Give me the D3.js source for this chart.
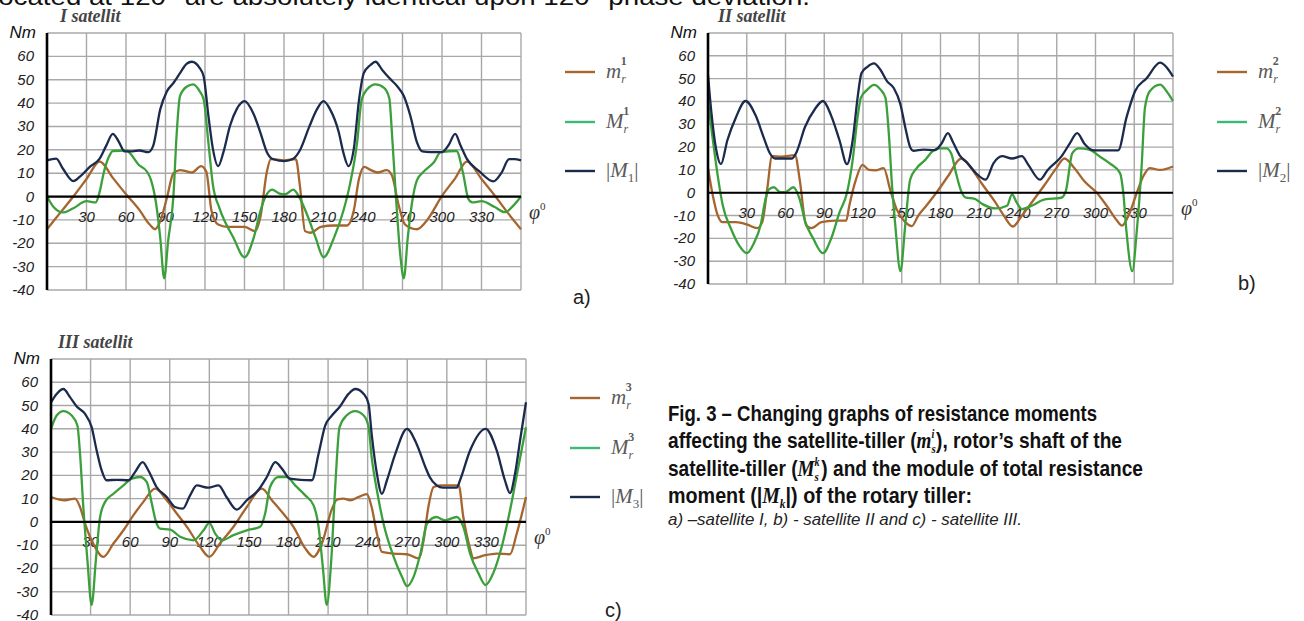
<!DOCTYPE html>
<html>
<head>
<meta charset="utf-8">
<script src="https://cdn.jsdelivr.net/npm/d3@7"></script>
<style>
body { margin: 0; background: #fff; }
svg text { font-family: "Liberation Sans", Arial, sans-serif; }
</style>
</head>
<body>
<script>
var w = 1304, h = 621;

var yTicks = [-40, -30, -20, -10, 0, 10, 20, 30, 40, 50, 60];
var xTicks = [30, 60, 90, 120, 150, 180, 210, 240, 270, 300, 330];
var titles = ["I satellit", "II satellit", "III satellit"];
var panelTags = ["a)", "b)", "c)"];

// [angle, Nm]
// satellite I
var m1 = [[0,-14],[10,-7],[20,0],[30,7.5],[40,15],[50,8],[60,1],[70,-5.6],[78,-12],[82,-14],[86,-10.6],[91,-0.7],[96,9.9],[101,11.3],[106,10.8],[110,10.3],[117,13],[121,10.6],[125,-6.3],[130,-12],[137,-13],[150,-13],[158,-14.8],[162,-9],[167,10.6],[170,16],[180,15.5],[189,16],[192,5],[196,-14.8],[200,-15.5],[208,-13],[218,-12.4],[228,-12.4],[233,-6],[237,7.7],[241,12.7],[246,11.3],[251,10.3],[258,11.3],[262,9],[267,-3.5],[272,-12],[281,-14],[288,-10.6],[300,0.3],[310,7.8],[319,15],[330,7.5],[342,-1],[350,-7],[360,-14]];
var M1 = [[0,0],[5,-4.5],[12,-6.8],[20,-5],[30,-2],[37,-2.5],[40,2],[43,10],[47,17],[50,19.5],[60,19.7],[70,13.4],[76,10.6],[79,7],[83,-3.5],[86,-17.6],[89,-35],[92,-19],[96,0],[98.5,27],[101,43],[106,47],[111,48],[116,45],[119,41.5],[122.6,23],[126,5],[131,-5],[141.6,-17.6],[150,-26],[157,-17.6],[162,-6.3],[166,0],[171,3],[176,1.4],[181,1],[187,3],[192,-0.7],[197.5,-7.7],[204,-17.6],[210,-26],[218,-17.6],[225,-6.3],[230,5],[235.5,23],[239,41.5],[243,45.8],[249.5,48],[256,46.5],[260,42],[262,27],[265,0],[268.5,-26],[271,-35],[274,-17.6],[277,-3.5],[281,7],[286,10.6],[294,14.8],[299,19],[311,19.5],[316,10],[320,-1],[323,-2.5],[330,-2],[340,-4.5],[348,-6.7],[354,-4],[360,0]];
var A1 = [[0,15.5],[7,16.2],[12,12],[20,6.6],[25,8.5],[32.5,12.7],[40,16.2],[45,21.8],[50,26.8],[54,24],[59,19.3],[65,19.3],[70,19.7],[77,19],[80.7,21.8],[86,37.3],[91,45],[96,48.6],[101,52.8],[106,56.8],[110,57.7],[116,55],[119,51.4],[122.6,34.5],[126,20.4],[130,13],[134,19],[139,30.3],[144,37.3],[150,40.8],[157,35.2],[162,27.5],[167,19],[171,16.2],[180,15.2],[187,16.2],[192,19.7],[199,29.6],[205,37.3],[210,40.8],[215,37.3],[221.6,27.5],[225,19],[229,13],[233,20.4],[237,41.5],[240.6,52.8],[245.7,56.3],[249.5,57.7],[254.6,54.2],[260,50.7],[266,47.2],[271,43],[276,34.5],[281,23.2],[285,19.3],[291,19],[300,19],[305,22],[310,26.8],[314,22],[319,16],[328,11],[339,6.5],[345,10],[351,16],[355,16],[360,15.5]];

// satellite II
var m2 = [[0,10.8],[3.8,-1.4],[7.6,-10],[11.5,-12.9],[21.6,-12.9],[30.5,-14],[38,-15.5],[42,-12.9],[45.8,1.4],[49.6,16],[57,15.8],[67.4,16.5],[71,5.7],[76,-14.3],[80,-15.5],[87.8,-12.9],[98,-12.2],[107,-12.2],[109.4,-5.7],[114.5,5.7],[119.6,12.2],[124.7,10],[129.8,9.8],[136,10.8],[141,1.4],[146,-7.2],[152.7,-12.9],[157.8,-14.6],[162.8,-10],[169,-5.7],[176.8,0],[185.8,7.2],[196,15],[204.8,10],[212.5,3.6],[222.6,-4.3],[229,-10],[236,-14.8],[243,-10],[250.6,-4.3],[260.8,3.6],[269.7,10.8],[276,15],[283.6,10.8],[291.4,5],[301,0],[308.8,-5.8],[316.6,-12.2],[320.5,-14.4],[325.6,-10],[332,0],[337,7.2],[342,10.8],[350,10],[360,11.5]];
var M2 = [[0,40.2],[3.8,23],[7.6,7.2],[11.5,-5.7],[17.8,-15.8],[24,-23],[30,-26.5],[35.6,-22],[40.7,-14.3],[44.5,-2.9],[47,1.4],[51,2.4],[56,0.3],[60,0.3],[66,2.4],[71,-2.9],[75,-12.2],[81.4,-20],[89,-26.5],[95.4,-20],[101.8,-8.6],[107.6,0],[112,14.3],[115.8,33],[118.3,41.6],[123.4,45.2],[128.5,47.3],[133.6,45.2],[137.4,41.6],[140,25.8],[142.5,2.9],[145,-14.3],[149,-34.4],[152.7,-14.3],[156.5,5.7],[161.6,10.8],[168,14.3],[174.3,18.4],[179.4,19.4],[184.5,19.4],[188.3,17.2],[192,8.6],[196,0.7],[199.7,-2.2],[206,-2.6],[212.5,-5],[222.6,-6.9],[231.5,-5.7],[235.4,-0.7],[239,-4.3],[243,-7.2],[250.6,-5.7],[260.8,-2.9],[273.5,-2.2],[277,0.7],[282,17.2],[287,19.4],[295,18.9],[303.5,15.8],[311,12.9],[319,8.6],[321.5,0],[324,-17.2],[328.5,-34.4],[331.9,-17.2],[335.7,11.5],[338.3,37.3],[342,44.5],[350,47.4],[355,44.5],[360,40.2]];
var A2 = [[0,51.6],[2.5,35.9],[6.4,18.7],[10,12.5],[15,23],[21.6,33],[29,40.2],[37,33.7],[43,24.4],[48,17.2],[52,15],[65,15],[68.7,18],[75,28.7],[82.7,36.6],[89,40.2],[95.4,33.7],[101.8,23],[107.6,12.5],[112,23],[115.8,41.6],[118.8,52.4],[123.4,55.2],[128.5,56.7],[133.6,53.8],[138.7,48.8],[143.8,45.9],[149,38.7],[152.7,28.7],[156.5,20],[159,18.4],[166.7,18.9],[175.6,18.7],[180.7,21.5],[185.8,26.1],[189.6,22.2],[194.7,16.5],[201,12.9],[207.4,8.6],[215,5.7],[221,12.9],[227.7,16],[235.4,15],[243,16],[248,12.2],[257,5.7],[263,10],[273.5,15.8],[280,21.5],[285.8,26.1],[291.4,21.5],[297.7,18.7],[301,18.6],[317.6,18.6],[324,33],[330.6,44.5],[339.6,50.2],[350,57],[355,55],[360,50.9]];

// satellite III
var m3 = [[0,10.7],[5.6,9.7],[10.6,9.3],[18.2,10],[22,6.4],[25.8,-0.7],[32,-9.3],[39.7,-15],[47.3,-9.3],[54.9,-3.6],[62.5,2.9],[70,8.6],[78.9,14.3],[87.7,9.3],[95.3,3.6],[103,-2.1],[113,-10.7],[120,-15],[128,-9.3],[138.3,-2.1],[148.4,6.4],[159.8,14.3],[167.4,9.3],[176,3.6],[183.8,-2.1],[192.7,-11.4],[199,-15],[205.3,-9.3],[213,5.7],[216.7,9.6],[221.7,10],[226.8,9.3],[233,10.7],[239.4,11.9],[243,6.4],[247,-5],[250.8,-12.9],[259.7,-13.6],[269.8,-13.9],[278.6,-15.7],[282.4,-7.9],[286,6.4],[290,15],[295,15.7],[309,15.7],[312.5,2.1],[317.6,-11.4],[320,-15.7],[329,-14.3],[337.8,-13.6],[347.9,-13.9],[353,-5],[360,10.7]];
var M3 = [[0,40],[4.3,45.7],[9.4,47.6],[15.7,45.7],[20,41.4],[22,29.3],[24.5,6.4],[27.6,-16.4],[30.8,-35.7],[34,-16.4],[37.2,2.1],[41,8.6],[47.3,12.1],[54.9,15.7],[61.2,18.6],[67.5,19.3],[72.6,17.1],[76.4,7.9],[79.6,0],[82.7,-2.9],[90.3,-3.3],[97.9,-6.4],[108,-7.9],[115.6,-3.6],[120,-0.4],[124.4,-5],[129.5,-7.9],[138.3,-5.7],[148.4,-3.6],[158.5,-2.1],[162.3,3.6],[166,15],[172.4,19.3],[178.8,19.3],[185,15.7],[192.7,11.4],[199,7.1],[202.8,-2.1],[206,-19.3],[209,-35.7],[212.4,-16.4],[215.4,15],[218.7,40.7],[224,45.7],[230.6,47.6],[237,45.7],[240.7,40.7],[243,27.9],[247,13.6],[252,-0.7],[259.7,-15],[266,-23.6],[269.8,-27.6],[274.8,-23.6],[280,-13.6],[285,-0.7],[292,2.1],[298.6,0.7],[307.5,2.1],[312.5,-2.1],[317.6,-13.6],[323.9,-22],[329.4,-27.1],[335.2,-22],[341.6,-10.7],[347.9,5],[354.2,23.6],[360,40.7]];
var A3 = [[0,51.4],[4.3,55],[9.4,57.1],[14.4,53.6],[19.5,49.6],[25.8,46.4],[30.8,40.7],[34.6,30.7],[38.4,22.1],[42,17.9],[49.8,18.1],[58.7,17.9],[63.7,21.4],[69.5,25.7],[73.8,22.1],[80,15],[87.7,10.7],[94,6.4],[99.9,5.7],[105.4,11.4],[110.5,15.7],[119.3,14.7],[127,15.7],[133,10.7],[140.8,5.3],[148.4,9.3],[157,13.6],[163.6,19.3],[170,25.7],[175,22.9],[181,18.6],[189,18.1],[197.7,17.9],[202.8,29.3],[207.8,41.4],[212.9,45.7],[219,49.6],[225.5,55],[230.6,57.1],[237,55],[240.7,50.7],[243,37.9],[247,20.7],[250.8,12.1],[254.6,17.9],[261,29.3],[269.8,40],[277,33.6],[283.7,23.6],[287,19.3],[292.3,15.7],[297,14.7],[307.5,14.7],[310,17.9],[317.6,30.7],[329.4,40],[337.8,30.7],[344,17.9],[347.9,12.4],[351.7,20.7],[355.5,35],[360,51.4]];

var colBrown = "#a6652e", colGreen = "#3ba03b", colGreenLeg = "#3db877", colNavy = "#1b2a4d";

var svg = d3.select("body").append("svg")
    .attr("width", w)
    .attr("height", h);

// cut-off line of the body text above the figure
svg.append("text")
    .attr("x", -8).attr("y", 5)
    .attr("textLength", 818)
    .attr("lengthAdjust", "spacingAndGlyphs")
    .style("font-size", "23px")
    .attr("fill", "#111")
    .text("located at 120° are absolutely identical upon 120°  phase deviation.");

var panels = [
  {left: 47, right: 521, top: 33, bottom: 290, tx: 60, ty: 22, n: 1, m: m1, M: M1, A: A1, tagX: 573, tagY: 304},
  {left: 708, right: 1173, top: 33, bottom: 284, tx: 718, ty: 22, n: 2, m: m2, M: M2, A: A2, tagX: 1238, tagY: 290},
  {left: 51, right: 526, top: 359, bottom: 615, tx: 58, ty: 348, n: 3, m: m3, M: M3, A: A3, tagX: 605, tagY: 617}
];

panels.forEach(function(p, i) {
  var x = d3.scaleLinear().domain([0, 360]).range([p.left, p.right]);
  var y = d3.scaleLinear().domain([-40, 70]).range([p.bottom, p.top]);
  var g = svg.append("g");

  // grid
  g.selectAll("line.h").data(d3.range(-40, 71, 10)).enter().append("line")
      .attr("x1", p.left).attr("x2", p.right)
      .attr("y1", function(d) { return y(d); }).attr("y2", function(d) { return y(d); })
      .attr("stroke", "#a8a8a8").attr("stroke-width", 1.4);
  g.selectAll("line.v").data(d3.range(30, 361, 30)).enter().append("line")
      .attr("x1", function(d) { return x(d); }).attr("x2", function(d) { return x(d); })
      .attr("y1", p.top).attr("y2", p.bottom)
      .attr("stroke", "#a8a8a8").attr("stroke-width", 1.4);

  // y labels
  g.selectAll("text.yl").data(yTicks).enter().append("text")
      .attr("x", p.left - 13)
      .attr("y", function(d) { return y(d) + 5; })
      .attr("text-anchor", "end")
      .style("font-size", "15px").style("font-style", "italic")
      .attr("fill", "#222")
      .text(function(d) { return d; });
  g.append("text")
      .attr("x", p.left - 11).attr("y", p.top + 5)
      .attr("text-anchor", "end")
      .style("font-size", "17px").style("font-style", "italic")
      .attr("fill", "#111")
      .text("Nm");

  // x labels
  g.selectAll("text.xl").data(xTicks).enter().append("text")
      .attr("x", function(d) { return x(d); })
      .attr("y", y(0) + 25)
      .attr("text-anchor", "middle")
      .style("font-size", "15px").style("font-style", "italic")
      .attr("fill", "#222")
      .text(function(d) { return d; });

  // curves
  var line = d3.line()
      .x(function(d) { return x(d[0]); })
      .y(function(d) { return y(d[1]); })
      .curve(d3.curveMonotoneX);
  [[p.m, colBrown], [p.M, colGreen], [p.A, colNavy]].forEach(function(s) {
    g.append("path").datum(s[0])
        .attr("d", line)
        .attr("fill", "none")
        .attr("stroke", s[1])
        .attr("stroke-width", 2.3)
        .attr("stroke-linejoin", "round");
  });

  // axes
  g.append("line").attr("x1", p.left).attr("x2", p.right)
      .attr("y1", y(0)).attr("y2", y(0))
      .attr("stroke", "#000").attr("stroke-width", 2.2);
  g.append("line").attr("x1", p.left).attr("x2", p.left)
      .attr("y1", p.top).attr("y2", p.bottom)
      .attr("stroke", "#000").attr("stroke-width", 2.6);

  // phi
  var phi = g.append("text")
      .attr("x", p.right + 8).attr("y", y(0) + 22)
      .style("font-family", "'Liberation Serif', serif")
      .style("font-size", "20px").style("font-style", "italic")
      .attr("fill", "#333");
  phi.append("tspan").text("φ");
  phi.append("tspan").attr("dy", -9).style("font-size", "11px").style("font-style", "normal").text("0");

  // title
  g.append("text")
      .attr("x", p.tx).attr("y", p.ty)
      .style("font-family", "'Liberation Serif', serif")
      .style("font-size", "18px").style("font-style", "italic").style("font-weight", "bold")
      .attr("fill", "#444")
      .text(titles[i]);

  // legend
  var legY = [p.top + 39, p.top + 89, p.top + 138];
  var legCols = [colBrown, colGreenLeg, colNavy];
  legY.forEach(function(ly, k) {
    g.append("line")
        .attr("x1", p.right + 44).attr("x2", p.right + 74)
        .attr("y1", ly).attr("y2", ly)
        .attr("stroke", legCols[k]).attr("stroke-width", 2.4);
    var t = g.append("text")
        .attr("x", p.right + 85).attr("y", ly + 6)
        .style("font-family", "'Liberation Serif', serif")
        .style("font-size", "21px")
        .attr("fill", "#5a5a5a");
    if (k < 2) {
      t.append("tspan").style("font-style", "italic").text(k == 0 ? "m" : "M");
      t.append("tspan").attr("dy", 5).style("font-size", "12px").style("font-style", "italic").text("r");
      t.append("tspan").attr("dx", -5).attr("dy", -18).style("font-size", "12px").style("font-weight", "bold").text(p.n);
    } else {
      t.append("tspan").text("|");
      t.append("tspan").style("font-style", "italic").text("M");
      t.append("tspan").attr("dy", 5).style("font-size", "13px").text(p.n);
      t.append("tspan").attr("dy", -5).text("|");
    }
  });

  g.append("text")
      .attr("x", p.tagX).attr("y", p.tagY)
      .style("font-size", "20px")
      .attr("fill", "#222")
      .text(panelTags[i]);
});

// caption
var capFont = "'Liberation Sans Narrow', 'Arial Narrow', 'Liberation Sans', sans-serif";
var cap = svg.append("g")
    .style("font-family", capFont)
    .style("font-weight", "bold")
    .style("font-size", "22.5px")
    .attr("fill", "#111");
var capX = 668;

cap.append("text").attr("x", capX).attr("y", 421)
    .attr("textLength", 429).attr("lengthAdjust", "spacingAndGlyphs")
    .text("Fig. 3 – Changing graphs of resistance moments");

function mathPart(t, base, sub, sup) {
  t.append("tspan").style("font-family", "'Liberation Serif', serif").style("font-style", "italic").text(base);
  t.append("tspan").attr("dy", 5).style("font-family", "'Liberation Serif', serif").style("font-style", "italic").style("font-size", "13px").text(sub);
  if (sup) t.append("tspan").attr("dx", -5).attr("dy", -15).style("font-family", "'Liberation Serif', serif").style("font-style", "italic").style("font-size", "12px").text(sup);
  return t.append("tspan").attr("dx", sup ? 2 : 0).attr("dy", sup ? 10 : -5);
}

var c2 = cap.append("text").attr("x", capX).attr("y", 448)
    .attr("textLength", 454).attr("lengthAdjust", "spacingAndGlyphs");
c2.append("tspan").text("affecting the satellite-tiller (");
mathPart(c2, "m", "s", "i").text("), rotor’s shaft of the");

var c3 = cap.append("text").attr("x", capX).attr("y", 476)
    .attr("textLength", 475).attr("lengthAdjust", "spacingAndGlyphs");
c3.append("tspan").text("satellite-tiller (");
mathPart(c3, "M", "s", "k").text(") and the module of total resistance");

var c4 = cap.append("text").attr("x", capX).attr("y", 503)
    .attr("textLength", 304).attr("lengthAdjust", "spacingAndGlyphs");
c4.append("tspan").text("moment (|");
mathPart(c4, "M", "k", null).text("|) of the rotary tiller:");

svg.append("text").attr("x", capX).attr("y", 525)
    .attr("textLength", 354).attr("lengthAdjust", "spacingAndGlyphs")
    .style("font-family", capFont)
    .style("font-style", "italic")
    .style("font-size", "17px")
    .attr("fill", "#222")
    .text("a) –satellite I, b) - satellite II and c) - satellite III.");
</script>
</body>
</html>
